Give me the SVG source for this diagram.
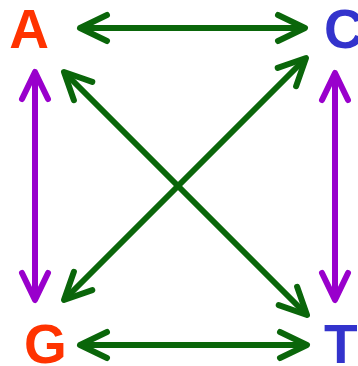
<svg xmlns="http://www.w3.org/2000/svg" width="358" height="366" viewBox="0 0 358 366">
<style>
.lbl{font-family:"Liberation Sans",Arial,sans-serif;font-weight:bold;font-size:55px}
.red{fill:#ff3300}
.blue{fill:#3333cc}
.g{stroke:#0a660a;stroke-width:6;fill:none;stroke-linecap:butt}
.p{stroke:#9900cc;stroke-width:6;fill:none;stroke-linecap:butt}
</style>
<defs>
<marker id="mg" markerUnits="userSpaceOnUse" viewBox="-40 -20 50 40" markerWidth="50" markerHeight="40" refX="0" refY="0" orient="auto-start-reverse" overflow="visible">
<path d="M-27,-13 L0,0 L-27,13" fill="none" stroke="#0a660a" stroke-width="6" stroke-linecap="round" stroke-linejoin="round"/>
</marker>
<marker id="mp" markerUnits="userSpaceOnUse" viewBox="-40 -20 50 40" markerWidth="50" markerHeight="40" refX="0" refY="0" orient="auto-start-reverse" overflow="visible">
<path d="M-27,-13 L0,0 L-27,13" fill="none" stroke="#9900cc" stroke-width="6" stroke-linecap="round" stroke-linejoin="round"/>
</marker>
</defs>
<g id="connectors">
<line class="g" x1="80" y1="28" x2="305" y2="28" marker-start="url(#mg)" marker-end="url(#mg)"/>
<line class="g" x1="80" y1="345" x2="307" y2="345" marker-start="url(#mg)" marker-end="url(#mg)"/>
<line class="p" x1="35" y1="72" x2="35" y2="300" marker-start="url(#mp)" marker-end="url(#mp)"/>
<line class="p" x1="335" y1="73" x2="335" y2="300" marker-start="url(#mp)" marker-end="url(#mp)"/>
<line class="g" x1="64" y1="72" x2="307" y2="315" marker-start="url(#mg)" marker-end="url(#mg)"/>
<line class="g" x1="64" y1="300" x2="306" y2="58" marker-start="url(#mg)" marker-end="url(#mg)"/>
</g>
<g id="A"><text class="lbl red" x="29" y="48" text-anchor="middle">A</text></g>
<g id="C"><text class="lbl blue" x="324" y="48">C</text></g>
<g id="G"><text class="lbl red" x="24" y="363">G</text></g>
<g id="T"><text class="lbl blue" x="324" y="363">T</text></g>
</svg>
